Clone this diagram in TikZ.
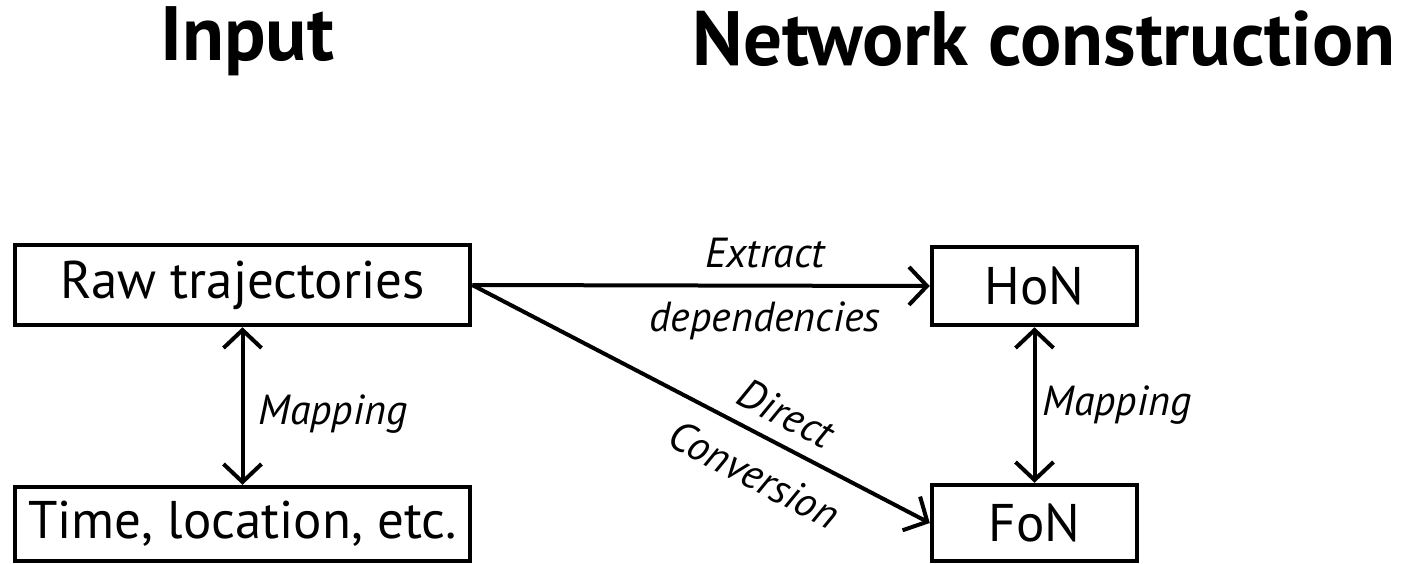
\documentclass[tikz,border=0pt]{standalone}
\usepackage{fontspec}
\setmainfont{PT Sans}
\usetikzlibrary{arrows.meta}
\begin{document}
\begin{tikzpicture}[x=1pt, y=-1pt,
  box/.style={draw, line width=4.5pt, inner sep=0pt, font=\fontsize{53}{56}\selectfont},
  link/.style={line width=4pt, -{Straight Barb[length=18pt, width=38pt, line width=4pt]}},
  biLink/.style={line width=4pt, {Straight Barb[length=18pt, width=38pt, line width=4pt]}-{Straight Barb[length=18pt, width=38pt, line width=4pt]}},
  lab/.style={inner sep=0pt, font=\itshape\fontsize{42}{46}\selectfont},
  title/.style={anchor=base, font=\bfseries\fontsize{77}{80}\selectfont}]
\useasboundingbox (0,0) rectangle (1411,563);

% column headings
\node[title] (hIn) at (247,60) {Input};
\node[title] (hNet) at (1044,65) {Network construction};

% boxes
\node[box, minimum width=455pt, minimum height=80pt] (raw) at (242.5,285) {Raw trajectories};
\node[box, minimum width=455pt, minimum height=74pt] (meta) at (242.5,524) {Time, location, etc.};
\node[box, minimum width=205pt, minimum height=78pt] (hon) at (1034.5,286) {HoN};
\node[box, minimum width=205pt, minimum height=76pt] (fon) at (1034.5,523) {FoN};

% connectors
\draw[link] (raw.east) -- node[lab, pos=0.64, above=16pt] {Extract} node[lab, pos=0.64, below=14pt] {dependencies} (hon.west);
\draw[link] (raw.east) -- node[lab, sloped, pos=0.655, above=14pt] {Direct} node[lab, sloped, pos=0.655, below=21pt] {Conversion} (fon.west);
\draw[biLink] (raw.south) -- node[lab, pos=0.55, right=14pt] {Mapping} (meta.north);
\draw[biLink] (hon.south) -- node[lab, right=6pt] {Mapping} (fon.north);
\end{tikzpicture}
\end{document}
